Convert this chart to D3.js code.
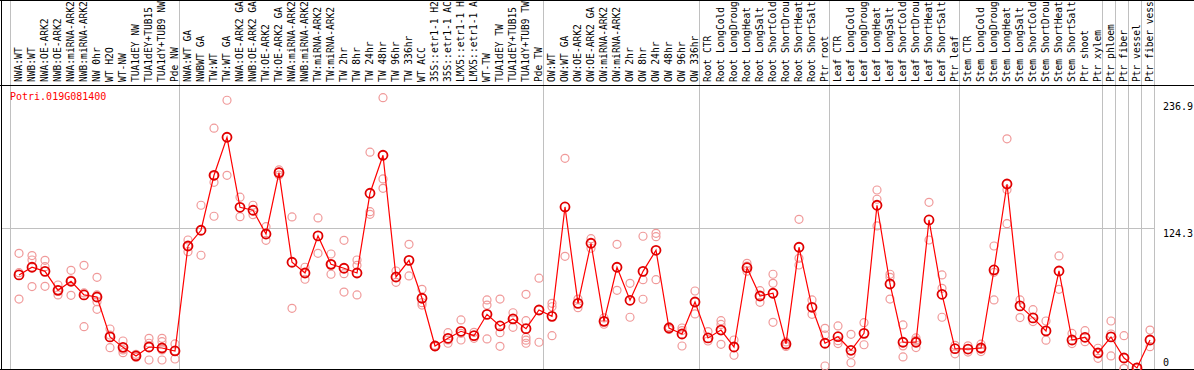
<!DOCTYPE html>
<html>
<head>
<meta charset="utf-8">
<script src="https://cdn.jsdelivr.net/npm/d3@7/dist/d3.min.js"></script>
<style>
  body { margin: 0; background: #fff; }
  svg { display: block; }
</style>
</head>
<body>
<div id="chart"></div>
<script>
const geneId = 'Potri.019G081400';

const categories = [
  'NWA:WT', 'NWB:WT', 'NWA:OE-ARK2', 'NWB:OE-ARK2', 'NWA:miRNA-ARK2', 'NWB:miRNA-ARK2',
  'NW 0hr', 'WT H2O', 'WT-NW', 'TUA1dEY NW', 'TUA1dEY+TUB15', 'TUA1dY+TUB9 NW', 'Pde NW',
  'NWA:WT GA', 'NWBWT GA', 'TW:WT', 'TW:WT GA', 'NWA:OE-ARK2 GA', 'NWB:OE-ARK2 GA',
  'TW:OE-ARK2', 'TW:OE-ARK2 GA', 'NWA:miRNA-ARK2', 'NWB:miRNA-ARK2', 'TW:miRNA-ARK2',
  'TW:miRNA-ARK2', 'TW 2hr', 'TW 8hr', 'TW 24hr', 'TW 48hr', 'TW 96hr', 'TW 336hr',
  'WT ACC', '35S::etr1-1 H2O', '35S::etr1-1 ACC', 'LMX5::etr1-1 H2O', 'LMX5::etr1-1 ACC',
  'WT-TW', 'TUA1dEY TW', 'TUA1dEY+TUB15', 'TUA1dY+TUB9 TW', 'Pde TW',
  'OW:WT', 'OW:WT GA', 'OW:OE-ARK2', 'OW:OE-ARK2 GA', 'OW:miRNA-ARK2', 'OW:miRNA-ARK2',
  'OW 2hr', 'OW 8hr', 'OW 24hr', 'OW 48hr', 'OW 96hr', 'OW 336hr',
  'Root CTR', 'Root LongCold', 'Root LongDrought', 'Root LongHeat', 'Root LongSalt',
  'Root ShortCold', 'Root ShortDrought', 'Root ShortHeat', 'Root ShortSalt', 'Ptr root',
  'Leaf CTR', 'Leaf LongCold', 'Leaf LongDrought', 'Leaf LongHeat', 'Leaf LongSalt',
  'Leaf ShortCold', 'Leaf ShortDrought', 'Leaf ShortHeat', 'Leaf ShortSalt', 'Ptr leaf',
  'Stem CTR', 'Stem LongCold', 'Stem LongDrought', 'Stem LongHeat', 'Stem LongSalt',
  'Stem ShortCold', 'Stem ShortDrought', 'Stem ShortHeat', 'Stem ShortSalt',
  'Ptr shoot', 'Ptr xylem', 'Ptr phloem', 'Ptr fiber', 'Ptr vessel', 'Ptr fiber vessel'
];

// mean expression per sample
const means = [
  82.7, 89.5, 85.9, 69.1, 77.1, 65.0, 63.2, 27.9, 18.7, 11.1, 19.0, 18.1, 15.5,
  108.3, 122.2, 170.8, 204.4, 142.5, 139.9, 118.9, 173.1, 93.9, 84.4, 117.2, 92.1,
  88.6, 84.4, 154.9, 188.5, 80.9, 95.6, 62.1, 19.9, 26.7, 32.9, 29.0, 47.9, 37.6,
  43.8, 35.2, 51.7, 46.1, 142.8, 57.6, 110.7, 41.7, 89.5, 60.3, 85.9, 104.5, 35.8,
  30.5, 58.8, 27.0, 34.0, 19.0, 89.1, 64.1, 66.5, 21.7, 107.2, 54.1, 22.3, 28.1,
  16.1, 31.1, 144.3, 74.7, 23.2, 23.2, 131.3, 65.6, 17.5,
  17.2, 18.1, 87.1, 163.1, 55.3, 44.7, 33.2, 86.2, 25.2,
  27.6, 13.7, 27.9, 9.3, 0.5, 25.2
];

// individual replicates per sample
const replicates = [
  [101.8, 84.7, 61.4], [99.8, 95.9, 72.4], [95.6, 90.0, 72.6], [73.8, 69.4, 65.0],
  [86.8, 78.2, 64.7], [91.2, 37.0, 66.8], [80.6, 65.0, 59.1, 52.3], [34.9, 29.6, 18.4],
  [24.3, 16.4, 14.0], [12.5, 11.0, 9.8], [26.7, 22.3, 7.5], [26.7, 23.7, 16.4, 7.5],
  [21.7, 15.7, 8.4],
  [113.6, 108.3, 103.3], [144.3, 100.1], [212.4, 170.2, 164.6, 134.6], [237.1, 170.8],
  [151.4, 134.2], [144.3, 136.0], [125.4, 113.3], [175.5, 173.7, 171.0], [134.0, 53.2],
  [89.5, 78.9], [133.1, 101.8], [101.2, 83.3, 92.1], [113.3, 83.8, 67.6],
  [95.9, 91.2, 65.0], [191.2, 138.6, 136.3], [239.4, 167.6, 159.3], [86.2, 76.2],
  [109.8, 81.8], [70.0, 58.2, 56.1], [20.5, 19.9, 19.3], [31.7, 25.2, 22.3],
  [42.9, 31.1, 25.2], [32.0, 26.7], [60.6, 56.1, 26.1], [61.4, 31.7, 19.6],
  [49.3, 43.8, 36.4], [65.6, 42.3, 27.5, 25.0, 22.3], [79.8, 23.2], [57.6, 54.6, 29.0],
  [185.8, 99.2], [61.4, 53.8], [114.8, 106.3], [44.7, 39.1], [109.8, 69.1], [75.3, 45.3],
  [116.9, 78.5, 61.2], [119.5, 116.5, 78.5], [37.0, 34.5], [35.8, 19.9, 33.5],
  [68.5, 48.2], [32.6, 24.3], [42.3, 39.0, 21.4], [25.2, 11.7], [93.0, 90.5, 86.0],
  [68.8, 58.5], [83.3, 75.3, 40.8], [23.5, 20.5, 19.5], [131.9, 97.4, 91.5],
  [60.6, 47.9], [35.5, 29.6, 2.2], [37.6, 24.6, 22.0], [30.2, 12.6, 5.1], [40.5, 21.0],
  [157.8, 149.6, 126.0], [83.3, 80.6, 61.4], [38.5, 20.0, 10.2], [27.0, 25.0, 18.5],
  [146.9, 113.6], [82.7, 70.9, 45.3], [20.5, 13.0],
  [20.0, 14.5], [21.5, 17.0, 15.0], [108.3, 85.0, 60.6], [203.0, 158.0, 128.0],
  [60.6, 45.0], [52.0, 41.5], [42.0, 25.0], [99.5, 70.0], [31.0, 22.0],
  [33.4, 23.7], [17.9, 9.0], [42.0, 30.5, 11.1], [29.0, 0.0, 0.0], [1.0, 0.0], [34.0, 19.3]
];

const yTickValues = [236.9, 124.3, 0];
const separatorAfter = [0, 13, 41, 53, 63, 73, 84, 85, 86, 87, 88];

const W = 1194, H = 370;
const step = 13, left = 11;
const labelBottom = 85.5;

const svg = d3.select('#chart').append('svg')
  .attr('width', W).attr('height', H)
  .style('font-family', '"DejaVu Sans Mono", monospace');

svg.append('rect').attr('width', W).attr('height', H).attr('fill', '#fff');

// sample names repeat, so the band scale runs on the index
const x = d3.scaleBand()
  .domain(d3.range(categories.length))
  .range([left, left + step * categories.length]);

const cx = i => x(i) + 8;

const y = d3.scaleLinear()
  .domain([0, 236.9])
  .range([368.5, 100.5]);

// separators
svg.selectAll('line.sep')
  .data(separatorAfter)
  .enter().append('line')
  .attr('x1', k => left + step * k - 0.5)
  .attr('x2', k => left + step * k - 0.5)
  .attr('y1', 0).attr('y2', H)
  .attr('stroke', '#c0c0c0').attr('stroke-width', 1);

// middle gridline
svg.append('line')
  .attr('x1', 2).attr('x2', left + step * categories.length - 0.5)
  .attr('y1', Math.round(y(124.3)) + 0.5).attr('y2', Math.round(y(124.3)) + 0.5)
  .attr('stroke', '#c0c0c0');

// frame
svg.append('line').attr('x1', 0).attr('x2', W).attr('y1', 0.5).attr('y2', 0.5).attr('stroke', '#000');
svg.append('line').attr('x1', 0).attr('x2', W).attr('y1', labelBottom).attr('y2', labelBottom).attr('stroke', '#000');
svg.append('line').attr('x1', 0).attr('x2', W).attr('y1', 369.5).attr('y2', 369.5).attr('stroke', '#000');
svg.append('line').attr('x1', 1.5).attr('x2', 1.5).attr('y1', 0).attr('y2', H).attr('stroke', '#000');

// rotated sample labels
svg.append('g')
  .selectAll('text')
  .data(categories)
  .enter().append('text')
  .attr('transform', (d, i) => `translate(${cx(i) + 3},82) rotate(-90)`)
  .attr('font-size', 9.6)
  .attr('fill', '#000')
  .text(d => d);

// title
svg.append('text')
  .attr('x', 10).attr('y', 100)
  .attr('font-size', 10)
  .attr('fill', '#ff0000')
  .text(geneId);

// y labels on the right
svg.selectAll('text.ylab')
  .data(yTickValues)
  .enter().append('text')
  .attr('class', 'ylab')
  .attr('x', 1163)
  .attr('y', d => d === 0 ? 366 : y(d) + 9)
  .attr('font-size', 10)
  .attr('fill', '#000')
  .text(d => d === 0 ? '0' : d.toFixed(1));

// replicate points
const repPts = [];
replicates.forEach((arr, i) => arr.forEach(v => repPts.push({ i, v })));

svg.append('g')
  .selectAll('circle')
  .data(repPts)
  .enter().append('circle')
  .attr('cx', d => cx(d.i))
  .attr('cy', d => y(d.v))
  .attr('r', 4)
  .attr('fill', 'none')
  .attr('stroke', '#f09a9a')
  .attr('stroke-width', 1.2);

// mean line
const line = d3.line()
  .x((d, i) => cx(i))
  .y(d => y(d));

svg.append('path')
  .datum(means)
  .attr('fill', 'none')
  .attr('stroke', '#ff0000')
  .attr('stroke-width', 1.2)
  .attr('d', line);

svg.append('g')
  .selectAll('circle')
  .data(means)
  .enter().append('circle')
  .attr('cx', (d, i) => cx(i))
  .attr('cy', d => y(d))
  .attr('r', 4.5)
  .attr('fill', 'none')
  .attr('stroke', '#e00000')
  .attr('stroke-width', 1.8);
</script>
</body>
</html>
